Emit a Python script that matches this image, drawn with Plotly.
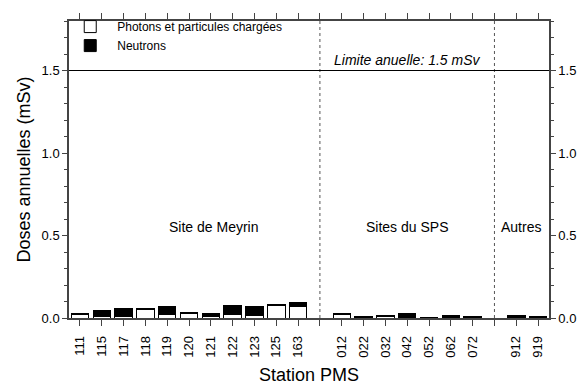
import plotly.graph_objects as go

groups = [
    ("Site de Meyrin", ["111", "115", "117", "118", "119", "120", "121", "122", "123", "125", "163"]),
    ("Sites du SPS", ["012", "022", "032", "042", "052", "062", "072"]),
    ("Autres", ["912", "919"]),
]
photons = [0.020, 0.012, 0.010, 0.049, 0.020, 0.027, 0.010, 0.023, 0.018, 0.074, 0.072,
           0.021, 0.005, 0.010, 0.005, 0.002, 0.002, 0.002,
           0.002, 0.002]
neutrons = [0.007, 0.031, 0.045, 0.010, 0.049, 0.005, 0.017, 0.055, 0.053, 0.006, 0.022,
            0.004, 0.003, 0.003, 0.020, 0.002, 0.014, 0.008,
            0.014, 0.009]
group_label_x = [6.1, 15.0, 20.2]
group_label_y = 0.55
limit_value = 1.5
limit_label = "Limite anuelle: 1.5 mSv"

# build positions: groups separated by one empty slot
xs, tickvals, ticktext, dividers, centers = [], [], [], [], []
pos = 0
for gi, (gname, cats) in enumerate(groups):
    start = pos
    for c in cats:
        xs.append(pos)
        tickvals.append(pos)
        ticktext.append(c)
        pos += 1
    centers.append((start + pos - 1) / 2)
    if gi < len(groups) - 1:
        dividers.append(pos)
        tickvals.append(pos)
        ticktext.append("")
        pos += 1
xmax = pos - 0.5

font = "Arial, Liberation Sans, sans-serif"
fig = go.Figure()
fig.add_trace(go.Bar(x=xs, y=photons, name="Photons et particules chargées",
                     marker=dict(color="white", line=dict(color="black", width=1)),
                     width=0.8))
fig.add_trace(go.Bar(x=xs, y=neutrons, name="Neutrons",
                     marker=dict(color="black", line=dict(color="black", width=1)),
                     width=0.8))
# invisible trace to draw right axis labels
fig.add_trace(go.Scatter(x=[xs[0]], y=[0], yaxis="y2", mode="markers",
                         marker=dict(opacity=0), showlegend=False, hoverinfo="skip"))

shapes = []
for d in dividers:
    shapes.append(dict(type="line", xref="x", yref="y", x0=d, x1=d, y0=0, y1=1.8,
                       line=dict(color="#555", width=1, dash="dot")))
shapes.append(dict(type="line", xref="paper", yref="y", x0=0, x1=1, y0=limit_value, y1=limit_value,
                   line=dict(color="black", width=1)))

annotations = []
for lx, (gname, _) in zip(group_label_x, groups):
    annotations.append(dict(x=lx, y=group_label_y, xref="x", yref="y", text=gname, showarrow=False,
                            font=dict(size=14, color="black", family=font)))
annotations.append(dict(x=centers[1], y=limit_value, xref="x", yref="y",
                        text="<i>" + limit_label + "</i>", showarrow=False, yanchor="bottom",
                        font=dict(size=14, color="black", family=font)))

axis_common = dict(showline=True, linecolor="#444", linewidth=1.5, ticks="outside",
                   tickcolor="#444", showgrid=False, zeroline=False, automargin=False)
fig.update_layout(
    barmode="stack",
    width=581, height=385,
    margin=dict(l=69, r=32, t=13, b=67),
    plot_bgcolor="white", paper_bgcolor="white",
    font=dict(family=font, size=13, color="black"),
    shapes=shapes, annotations=annotations,
    legend=dict(x=-0.012, y=1.03, xanchor="left", yanchor="top", bgcolor="rgba(0,0,0,0)",
                font=dict(size=12), tracegroupgap=0, traceorder="normal", itemwidth=44),
    xaxis=dict(range=[-0.5, xmax], tickvals=tickvals, ticktext=ticktext, tickangle=-90,
               mirror="allticks", ticklen=6, ticklabelstandoff=5,
               title=dict(text="Station PMS", font=dict(size=18), standoff=14),
               tickfont=dict(size=13), **axis_common),
    yaxis=dict(range=[0, 1.8], tickvals=[0, 0.5, 1.0, 1.5], tickformat=".1f", ticklen=5,
               minor=dict(ticks="outside", dtick=0.1, ticklen=3, tickcolor="#444"),
               title=dict(text="Doses annuelles (mSv)", font=dict(size=18), standoff=6),
               tickfont=dict(size=13), **axis_common),
    yaxis2=dict(range=[0, 1.8], overlaying="y", side="right", tickvals=[0, 0.5, 1.0, 1.5],
                tickformat=".1f", ticklen=5, ticklabelstandoff=0,
                minor=dict(ticks="outside", dtick=0.1, ticklen=3, tickcolor="#444"),
                tickfont=dict(size=13), **axis_common),
)
fig.write_html("out.html")
